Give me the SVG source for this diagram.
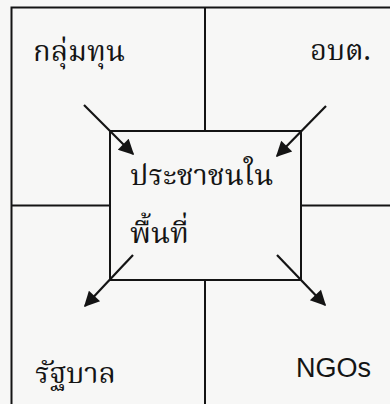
<svg xmlns="http://www.w3.org/2000/svg" width="390" height="404" viewBox="0 0 390 404">
  <style>
    .ln { stroke: #141414; stroke-width: 2; fill: none; }
    .box { stroke: #141414; stroke-width: 2; fill: #f7f7f6; }
    .th { font-family: "Noto Serif Thai", "Noto Sans Thai", "Noto Sans", sans-serif; font-size: 29px; fill: #141414; }
    .en { font-family: "Liberation Sans", Arial, sans-serif; font-size: 27px; fill: #141414; }
    .arr { stroke: #141414; stroke-width: 2.2; fill: none; marker-end: url(#ah); }
  </style>
  <defs>
    <marker id="ah" viewBox="0 0 10 10" refX="9" refY="5" markerWidth="8" markerHeight="7" markerUnits="strokeWidth" orient="auto">
      <path d="M0,0 L10,5 L0,10 Z" fill="#141414"/>
    </marker>
  </defs>
  <rect x="0" y="0" width="390" height="404" fill="#f7f7f6"/>
  <g id="frame">
    <path class="ln" d="M11.5,404 V7.5 H392"/>
    <path class="ln" d="M205,7.5 V131 M205,280 V404 M11.5,205.5 H110 M301,205.5 H392"/>
  </g>
  <g id="center">
    <rect class="box" x="110" y="131" width="191" height="149"/>
    <text class="th" x="130" y="185">ประชาชนใน</text>
    <text class="th" x="130" y="243">พื้นที่</text>
  </g>
  <g id="capital">
    <text class="th" x="33" y="61">กลุ่มทุน</text>
  </g>
  <g id="tao">
    <text class="th" x="310" y="60">อบต.</text>
  </g>
  <g id="government">
    <text class="th" x="35" y="383">รัฐบาล</text>
  </g>
  <g id="ngos">
    <text class="en" x="296" y="377.3">NGOs</text>
  </g>
  <g id="connectors">
    <line class="arr" x1="84" y1="105" x2="133" y2="154"/>
    <line class="arr" x1="326" y1="106" x2="277" y2="156"/>
    <line class="arr" x1="133" y1="255" x2="85" y2="306"/>
    <line class="arr" x1="277" y1="255" x2="325" y2="305"/>
  </g>
</svg>
